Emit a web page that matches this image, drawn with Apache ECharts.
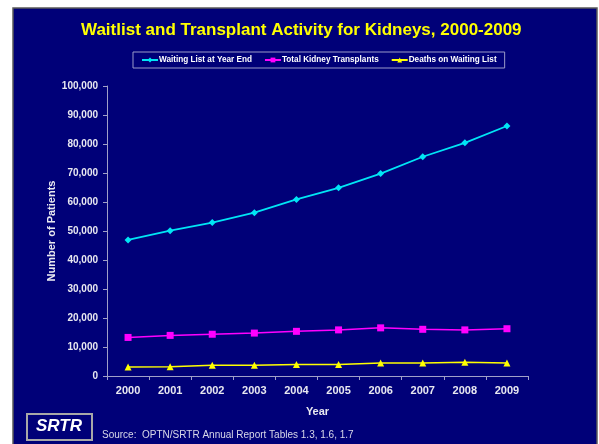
<!DOCTYPE html>
<html>
<head>
<meta charset="utf-8">
<script src="https://cdn.jsdelivr.net/npm/echarts@6/dist/echarts.min.js"></script>
<style>
  html, body { margin: 0; padding: 0; background: #ffffff; }
  #main { width: 599px; height: 444px; }
</style>
</head>
<body>
<div id="main"></div>
<script>
var years = ['2000', '2001', '2002', '2003', '2004', '2005', '2006', '2007', '2008', '2009'];
var waitingList = [46900, 50100, 52900, 56300, 60900, 64900, 69800, 75600, 80400, 86200];
var transplants = [13300, 14000, 14400, 14800, 15400, 15900, 16600, 16100, 15900, 16300];
var deaths = [3100, 3200, 3700, 3700, 4000, 4000, 4500, 4500, 4700, 4500];
var yTicks = [0, 10000, 20000, 30000, 40000, 50000, 60000, 70000, 80000, 90000, 100000];

var FONT = '"Liberation Sans", Arial, sans-serif';
var navy = '#000078';
var axisGray = '#a0a0c8';

var myChart = echarts.init(document.getElementById('main'));

var option = {
    backgroundColor: '#ffffff',
    animation: false,
    textStyle: { fontFamily: FONT },
    title: {
        text: 'Waitlist and Transplant Activity for Kidneys, 2000-2009',
        left: 81,
        top: 22,
        padding: 0,
        textStyle: { color: '#ffff00', fontSize: 17, fontWeight: 'bold', fontFamily: FONT }
    },
    legend: {
        left: 133,
        top: 52,
        padding: [4, 8, 4, 8],
        itemGap: 12,
        itemWidth: 16,
        itemHeight: 6,
        borderColor: '#9a9ac8',
        borderWidth: 1,
        textStyle: { color: '#ffffff', fontSize: 8.2, fontWeight: 'bold', fontFamily: FONT, padding: [0, 0, 0, -4] },
        data: ['Waiting List at Year End', 'Total Kidney Transplants', 'Deaths on Waiting List']
    },
    grid: {
        left: 107,
        right: 71,
        top: 86,
        bottom: 68
    },
    xAxis: {
        type: 'category',
        data: years,
        boundaryGap: true,
        name: 'Year',
        nameLocation: 'middle',
        nameGap: 30,
        nameMoveOverlap: false,
        nameTextStyle: { color: '#e8e8f0', fontSize: 11, fontWeight: 'bold' },
        axisLine: { lineStyle: { color: axisGray, width: 1 } },
        axisTick: { show: true, alignWithLabel: false, length: 4, lineStyle: { color: axisGray } },
        axisLabel: { color: '#e8e8f0', fontSize: 11, fontWeight: 'bold', margin: 9 },
        splitLine: { show: false }
    },
    yAxis: {
        type: 'value',
        min: yTicks[0],
        max: yTicks[yTicks.length - 1],
        interval: yTicks[1] - yTicks[0],
        name: 'Number of Patients',
        nameLocation: 'middle',
        nameGap: 50,
        nameMoveOverlap: false,
        nameTextStyle: { color: '#e8e8f0', fontSize: 11, fontWeight: 'bold' },
        axisLine: { show: true, lineStyle: { color: axisGray, width: 1 } },
        axisTick: { show: true, length: 4, lineStyle: { color: axisGray } },
        axisLabel: {
            color: '#e8e8f0', fontSize: 10, fontWeight: 'bold', margin: 9,
            formatter: function (v) { return v.toLocaleString('en-US'); }
        },
        splitLine: { show: false }
    },
    series: [
        {
            name: 'Waiting List at Year End',
            type: 'line',
            data: waitingList,
            symbol: 'diamond',
            symbolSize: 7,
            itemStyle: { color: '#00e5f5' },
            lineStyle: { color: '#00e5f5', width: 1.8 }
        },
        {
            name: 'Total Kidney Transplants',
            type: 'line',
            data: transplants,
            symbol: 'rect',
            symbolSize: 7,
            itemStyle: { color: '#ff00ff' },
            lineStyle: { color: '#ff00ff', width: 1.5 }
        },
        {
            name: 'Deaths on Waiting List',
            type: 'line',
            data: deaths,
            symbol: 'triangle',
            symbolSize: 7,
            itemStyle: { color: '#ffff00' },
            lineStyle: { color: '#ffff00', width: 1.5 }
        }
    ],
    graphic: [
        {
            type: 'rect',
            z: -10,
            silent: true,
            shape: { x: 13, y: 8, width: 584, height: 440 },
            style: { fill: navy, stroke: '#5a5a5a', lineWidth: 1.5 }
        },
        {
            type: 'rect',
            shape: { x: 27, y: 414, width: 65, height: 26 },
            style: { fill: navy, stroke: '#a8a8a8', lineWidth: 2 }
        },
        {
            type: 'text',
            left: 36,
            top: 418,
            style: { text: 'SRTR', fill: '#ffffff', font: 'italic bold 17px ' + FONT }
        },
        {
            type: 'text',
            left: 102,
            top: 430,
            style: { text: 'Source:  OPTN/SRTR Annual Report Tables 1.3, 1.6, 1.7', fill: '#d8d8e8', font: '10px ' + FONT }
        }
    ]
};

myChart.setOption(option);
</script>
</body>
</html>
